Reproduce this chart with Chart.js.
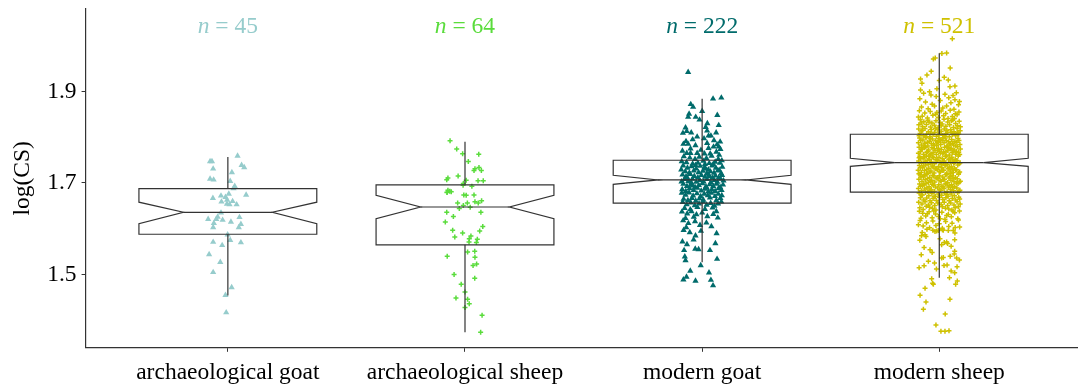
<!DOCTYPE html>
<html>
<head>
<meta charset="utf-8">
<script src="https://cdn.jsdelivr.net/npm/chart.js@4.4.1/dist/chart.umd.min.js"></script>
<style>
  html, body { margin: 0; padding: 0; background: #fff; }
  #wrap { width: 1078px; height: 385px; position: relative; }
</style>
</head>
<body>
<div id="wrap"><canvas id="csChart"></canvas></div>
<script>
const categories = ["archaeological goat", "archaeological sheep", "modern goat", "modern sheep"];
const groupColors = ["#96CCCC", "#5ADC3C", "#006B6B", "#CFC100"];
const counts = [45, 64, 222, 521];
const yTicks = [1.5, 1.7, 1.9];

// box statistics
const boxQ1 = [1.588, 1.565, 1.656, 1.680];
const boxMedian = [1.636, 1.6475, 1.7066, 1.7444];
const boxQ3 = [1.6875, 1.696, 1.7496, 1.8064];
const notchLow = [1.611, 1.622, 1.6971, 1.7363];
const notchHigh = [1.658, 1.673, 1.7168, 1.754];
const whiskerLow = [1.454, 1.374, 1.527, 1.493];
const whiskerHigh = [1.757, 1.790, 1.884, 1.9835];

// points: [jitter offset, log(CS)]
const archGoat = [
[0.041,1.759],[-0.075,1.747],[-0.067,1.747],[0.058,1.739],[0.069,1.734],[-0.062,1.731],[0.017,1.723],[-0.075,1.709],[-0.060,1.707],[0.010,1.704],
[0.029,1.693],[0.024,1.688],[0.077,1.674],[0.004,1.676],[-0.029,1.672],[-0.063,1.667],[-0.010,1.669],[-0.003,1.663],[-0.027,1.659],[-0.004,1.654],
[0.007,1.653],[0.037,1.653],[-0.029,1.635],[-0.043,1.626],[0.049,1.625],[-0.083,1.621],[-0.049,1.621],[-0.022,1.619],[0.013,1.615],[-0.059,1.612],
[0.055,1.610],[-0.062,1.603],[0.046,1.603],[-0.001,1.587],[0.010,1.575],[-0.062,1.571],[-0.024,1.564],[0.055,1.570],[-0.079,1.544],[-0.032,1.527],
[-0.062,1.505],[0.016,1.472],[-0.010,1.455],[-0.007,1.417],[0.020,1.660]
];
const archSheep = [
[-0.063,1.792],[-0.035,1.774],[-0.010,1.764],[0.058,1.763],[0.014,1.747],[0.059,1.734],[0.042,1.731],[0.038,1.727],[0.069,1.727],[-0.029,1.715],
[-0.072,1.711],[-0.077,1.707],[0.005,1.706],[0.055,1.705],[0.077,1.705],[-0.007,1.699],[-0.008,1.695],[0.029,1.693],[-0.072,1.684],[-0.064,1.682],
[-0.058,1.681],[-0.075,1.680],[-0.005,1.674],[0.005,1.673],[0.038,1.674],[-0.031,1.656],[0.010,1.656],[0.042,1.659],[0.056,1.656],[0.070,1.661],
[-0.007,1.651],[-0.024,1.644],[0.022,1.647],[-0.077,1.636],[0.067,1.636],[-0.049,1.627],[-0.083,1.615],[0.075,1.605],[-0.052,1.597],[-0.010,1.591],
[0.062,1.595],[-0.043,1.582],[0.025,1.584],[0.018,1.578],[0.052,1.577],[0.017,1.571],[0.048,1.570],[0.011,1.549],[0.041,1.551],[-0.075,1.540],
[0.042,1.538],[0.049,1.523],[0.034,1.520],[-0.046,1.500],[0.041,1.492],[-0.016,1.479],[0.000,1.462],[-0.038,1.449],[0.011,1.446],[0.018,1.436],
[0.000,1.428],[0.072,1.411],[0.066,1.374],[-0.076,1.679]
];
const modernGoat = [
[-0.059,1.942],[0.046,1.884],[0.081,1.886],[-0.038,1.866],[0.000,1.857],[-0.055,1.851],[-0.059,1.844],[-0.027,1.844],[-0.011,1.838],[0.022,1.830],
[0.070,1.826],[-0.070,1.821],[-0.081,1.809],[-0.065,1.813],[-0.046,1.810],[-0.021,1.801],[0.021,1.814],[0.027,1.803],[0.037,1.803],[0.059,1.810],
[0.064,1.848],[-0.048,1.872],[0.015,1.822],
[-0.079,1.785],[-0.059,1.785],[-0.028,1.782],[0.021,1.787],[0.076,1.790],[-0.040,1.795],[0.050,1.793],[0.008,1.797],[-0.068,1.791],[0.063,1.784],
[-0.049,1.775],[0.027,1.776],[0.048,1.779],[0.070,1.779],[0.077,1.774],[-0.065,1.765],[-0.049,1.765],[-0.021,1.765],[0.010,1.764],[0.034,1.764],[0.060,1.768],[0.072,1.761],[-0.083,1.770],[-0.005,1.772],
[-0.077,1.758],[-0.052,1.755],[-0.030,1.752],[-0.012,1.757],[0.005,1.748],[0.018,1.754],[0.040,1.759],[0.055,1.746],[0.068,1.752],[0.083,1.749],[-0.066,1.745],[-0.040,1.742],[-0.018,1.744],[0.012,1.741],[0.030,1.743],[0.047,1.741],[0.075,1.744],[-0.086,1.747],
[-0.080,1.738],[-0.062,1.733],[-0.045,1.736],[-0.025,1.731],[-0.008,1.737],[0.010,1.734],[0.026,1.729],[0.042,1.738],[0.058,1.733],[0.072,1.728],[0.085,1.735],[-0.071,1.725],[-0.054,1.722],[-0.035,1.727],[-0.015,1.723],[0.003,1.726],[0.020,1.721],[0.035,1.725],[0.050,1.722],[0.066,1.727],[0.080,1.721],[-0.088,1.729],[-0.028,1.739],[0.015,1.731],
[-0.083,1.718],[-0.068,1.714],[-0.050,1.719],[-0.033,1.715],[-0.018,1.712],[-0.003,1.717],[0.012,1.713],[0.028,1.718],[0.043,1.711],[0.056,1.716],[0.070,1.712],[0.084,1.717],[-0.075,1.708],[-0.058,1.704],[-0.041,1.709],[-0.025,1.702],[-0.010,1.706],[0.006,1.703],[0.021,1.708],[0.037,1.701],[0.052,1.706],[0.064,1.702],[0.078,1.709],[-0.087,1.703],[-0.046,1.701],[0.030,1.714],[0.090,1.705],[-0.062,1.711],
[-0.079,1.698],[-0.064,1.693],[-0.047,1.697],[-0.030,1.691],[-0.014,1.695],[0.001,1.699],[0.016,1.692],[0.032,1.697],[0.047,1.693],[0.061,1.698],[0.076,1.691],[0.088,1.696],[-0.084,1.686],[-0.069,1.682],[-0.053,1.688],[-0.036,1.684],[-0.020,1.689],[-0.004,1.683],[0.011,1.687],[0.026,1.681],[0.041,1.686],[0.055,1.682],[0.069,1.688],[0.082,1.684],[-0.040,1.694],[0.020,1.689],
[-0.086,1.678],[-0.070,1.674],[-0.055,1.679],[-0.038,1.672],[-0.022,1.677],[-0.006,1.671],[0.009,1.676],[0.024,1.673],[0.039,1.678],[0.054,1.671],[0.068,1.676],[0.083,1.673],[-0.078,1.665],[-0.060,1.662],[-0.043,1.667],[-0.027,1.661],[-0.011,1.666],[0.005,1.663],[0.033,1.668],[0.060,1.662],[0.077,1.667],
[-0.082,1.658],[-0.065,1.653],[-0.048,1.657],[-0.031,1.651],[-0.013,1.655],[0.004,1.659],[0.019,1.652],[0.036,1.656],[0.052,1.650],[0.067,1.655],[0.081,1.659],[-0.074,1.645],[-0.050,1.642],[-0.020,1.647],[0.012,1.643],[0.044,1.646],
[-0.085,1.637],[-0.063,1.633],[-0.045,1.638],[-0.024,1.631],[0.000,1.635],[0.022,1.627],[0.047,1.632],[0.066,1.624],[-0.070,1.623],[-0.035,1.626],[0.060,1.638],
[-0.080,1.618],[-0.058,1.612],[-0.030,1.616],[-0.009,1.608],[0.018,1.613],[0.039,1.605],[-0.067,1.603],
[-0.078,1.597],[-0.052,1.592],[-0.005,1.595],[0.061,1.590],[-0.028,1.585],
[-0.083,1.572],[-0.036,1.576],[-0.064,1.566],[0.056,1.568],
[-0.076,1.553],[-0.029,1.556],[-0.015,1.555],[0.033,1.553],
[-0.073,1.539],[-0.070,1.531],[0.063,1.534],
[-0.006,1.520],[-0.050,1.508],[0.029,1.504],
[-0.079,1.489],[-0.066,1.495],[-0.028,1.486],[0.037,1.488],[0.046,1.476]
];
const modernSheep = [
[0.055,2.015],[0.011,1.983],[0.031,1.984],[-0.025,1.971],[-0.017,1.973],[-0.034,1.944],[0.046,1.951],
[-0.079,1.927],[-0.073,1.918],[0.000,1.924],[0.038,1.925],[0.066,1.912],[-0.079,1.903],[0.045,1.910],[-0.052,1.936],[0.021,1.931],[-0.010,1.906],
[-0.066,1.896],[-0.041,1.899],[-0.013,1.889],[0.024,1.894],[0.058,1.891],[0.066,1.882],[0.072,1.897],[-0.082,1.884],[-0.058,1.877],[-0.030,1.872],[0.004,1.880],[0.031,1.868],[0.049,1.875],[0.081,1.871],[-0.075,1.866],[-0.047,1.862],[-0.020,1.868],[0.015,1.864],[0.040,1.886],[0.062,1.861],[-0.035,1.892],[0.085,1.878],
[-0.084,1.858],[-0.061,1.853],[-0.038,1.856],[-0.015,1.850],[0.008,1.857],[0.027,1.852],[0.046,1.859],[0.068,1.851],[0.083,1.855],[-0.072,1.846],[-0.050,1.842],[-0.027,1.848],[-0.004,1.843],[0.018,1.847],[0.037,1.841],[0.055,1.845],[0.075,1.849],[-0.088,1.844],[0.064,1.841],[-0.010,1.854],
[-0.080,1.838],[-0.065,1.834],[-0.048,1.837],[-0.031,1.831],[-0.014,1.836],[0.003,1.832],[0.020,1.839],[0.036,1.833],[0.052,1.836],[0.069,1.830],[0.084,1.835],[-0.086,1.827],[-0.070,1.823],[-0.054,1.828],[-0.037,1.822],[-0.021,1.826],[-0.005,1.821],[0.012,1.829],[0.028,1.824],[0.044,1.827],[0.060,1.821],[0.077,1.825],[-0.043,1.833],[0.008,1.825],[0.057,1.838],[-0.076,1.831],[0.089,1.823],
[-0.087,1.818],[-0.074,1.814],[-0.060,1.819],[-0.046,1.812],[-0.033,1.817],[-0.019,1.811],[-0.006,1.816],[0.008,1.813],[0.021,1.818],[0.035,1.811],[0.048,1.816],[0.062,1.812],[0.075,1.819],[0.088,1.814],
[-0.081,1.808],[-0.067,1.803],[-0.053,1.807],[-0.040,1.801],[-0.026,1.806],[-0.012,1.802],[0.001,1.809],[0.015,1.804],[0.028,1.808],[0.042,1.801],[0.055,1.806],[0.069,1.803],[0.082,1.807],
[-0.070,1.815],[-0.036,1.809],[-0.002,1.805],[0.032,1.815],[0.065,1.808],[-0.057,1.801],[-0.016,1.819],[0.025,1.802],[0.050,1.810],[-0.085,1.803],[0.078,1.811],
[-0.083,1.798],[-0.069,1.794],[-0.056,1.799],[-0.042,1.791],[-0.029,1.796],[-0.015,1.792],[-0.002,1.797],[0.012,1.793],[0.025,1.798],[0.039,1.790],[0.052,1.795],[0.066,1.791],[0.079,1.797],
[-0.088,1.788],[-0.075,1.783],[-0.061,1.787],[-0.048,1.781],[-0.034,1.786],[-0.021,1.782],[-0.007,1.789],[0.006,1.784],[0.020,1.788],[0.033,1.781],[0.047,1.786],[0.060,1.783],[0.074,1.789],[0.087,1.784],
[-0.078,1.793],[-0.050,1.789],[-0.024,1.785],[0.003,1.795],[0.030,1.792],[0.057,1.787],[0.083,1.793],[-0.064,1.781],[-0.038,1.797],[-0.011,1.782],[0.016,1.799],[0.043,1.785],[0.070,1.781],[-0.003,1.790],
[-0.085,1.778],[-0.072,1.774],[-0.058,1.779],[-0.045,1.772],[-0.031,1.777],[-0.018,1.771],[-0.004,1.776],[0.009,1.773],[0.023,1.778],[0.036,1.771],[0.050,1.776],[0.063,1.772],[0.077,1.779],[0.089,1.774],
[-0.080,1.768],[-0.066,1.763],[-0.053,1.767],[-0.039,1.761],[-0.026,1.766],[-0.012,1.762],[0.001,1.769],[0.015,1.764],[0.028,1.768],[0.042,1.761],[0.055,1.766],[0.069,1.763],[0.082,1.767],
[-0.076,1.773],[-0.049,1.769],[-0.022,1.775],[0.005,1.765],[0.032,1.779],[0.059,1.770],[0.086,1.762],[-0.062,1.777],[-0.035,1.764],[-0.008,1.771],[0.019,1.767],[0.046,1.774],[0.073,1.769],[-0.088,1.765],[0.039,1.777],
[-0.082,1.758],[-0.068,1.754],[-0.055,1.759],[-0.041,1.752],[-0.028,1.757],[-0.014,1.751],[-0.001,1.756],[0.013,1.753],[0.026,1.758],[0.040,1.751],[0.053,1.756],[0.067,1.752],[0.080,1.759],
[-0.087,1.748],[-0.074,1.743],[-0.060,1.747],[-0.047,1.741],[-0.033,1.746],[-0.020,1.742],[-0.006,1.749],[0.007,1.744],[0.021,1.748],[0.034,1.741],[0.048,1.746],[0.061,1.743],[0.075,1.749],[0.088,1.744],
[-0.078,1.753],[-0.051,1.749],[-0.024,1.755],[0.003,1.745],[0.030,1.759],[0.057,1.750],[0.084,1.742],[-0.064,1.757],[-0.037,1.744],[-0.010,1.751],[0.017,1.747],[0.044,1.754],[0.071,1.749],[-0.085,1.755],[0.010,1.740],[-0.044,1.758],[0.063,1.745],
[-0.084,1.738],[-0.071,1.734],[-0.057,1.739],[-0.044,1.732],[-0.030,1.737],[-0.017,1.731],[-0.003,1.736],[0.010,1.733],[0.024,1.738],[0.037,1.731],[0.051,1.736],[0.064,1.732],[0.078,1.739],
[-0.089,1.728],[-0.076,1.723],[-0.062,1.727],[-0.049,1.721],[-0.035,1.726],[-0.022,1.722],[-0.008,1.729],[0.005,1.724],[0.019,1.728],[0.032,1.721],[0.046,1.726],[0.059,1.723],[0.073,1.729],[0.086,1.724],
[-0.080,1.733],[-0.053,1.729],[-0.026,1.735],[0.001,1.725],[0.028,1.739],[0.055,1.730],[0.082,1.722],[-0.066,1.737],[-0.039,1.724],[-0.012,1.731],[0.015,1.727],[0.042,1.734],[0.069,1.729],[-0.086,1.720],[0.048,1.721],
[-0.081,1.718],[-0.067,1.714],[-0.054,1.719],[-0.040,1.712],[-0.027,1.717],[-0.013,1.711],[0.000,1.716],[0.014,1.713],[0.027,1.718],[0.041,1.711],[0.054,1.716],[0.068,1.712],[0.081,1.719],
[-0.086,1.708],[-0.073,1.703],[-0.059,1.707],[-0.046,1.701],[-0.032,1.706],[-0.019,1.702],[-0.005,1.709],[0.008,1.704],[0.022,1.708],[0.035,1.701],[0.049,1.706],[0.062,1.703],[0.076,1.709],[0.089,1.704],
[-0.077,1.713],[-0.050,1.709],[-0.023,1.715],[0.004,1.705],[0.031,1.719],[0.058,1.710],[0.085,1.702],[-0.063,1.717],[-0.036,1.704],[-0.009,1.711],[0.018,1.707],[0.045,1.714],[0.072,1.700],
[-0.083,1.698],[-0.070,1.694],[-0.056,1.699],[-0.043,1.692],[-0.029,1.697],[-0.016,1.691],[-0.002,1.696],[0.011,1.693],[0.025,1.698],[0.038,1.691],[0.052,1.696],[0.065,1.692],[0.079,1.699],
[-0.088,1.688],[-0.075,1.683],[-0.061,1.687],[-0.048,1.681],[-0.034,1.686],[-0.021,1.682],[-0.007,1.689],[0.006,1.684],[0.020,1.688],[0.033,1.681],[0.047,1.686],[0.060,1.683],[0.074,1.689],[0.087,1.684],
[-0.079,1.693],[-0.052,1.689],[-0.025,1.695],[0.002,1.685],[0.029,1.699],[0.056,1.690],[0.083,1.682],[-0.065,1.697],[-0.038,1.684],[0.016,1.691],[0.043,1.694],
[-0.085,1.678],[-0.071,1.674],[-0.058,1.679],[-0.044,1.672],[-0.031,1.677],[-0.017,1.671],[-0.004,1.676],[0.010,1.673],[0.023,1.678],[0.037,1.671],[0.050,1.676],[0.064,1.672],[0.077,1.679],
[-0.080,1.668],[-0.066,1.663],[-0.053,1.667],[-0.039,1.661],[-0.026,1.666],[-0.012,1.662],[0.001,1.669],[0.015,1.664],[0.028,1.668],[0.042,1.661],[0.055,1.666],[0.069,1.663],[0.082,1.669],
[-0.076,1.674],[-0.022,1.670],[0.032,1.675],[0.086,1.665],
[-0.087,1.658],[-0.073,1.654],[-0.060,1.659],[-0.046,1.652],[-0.033,1.657],[-0.019,1.651],[-0.006,1.656],[0.008,1.653],[0.021,1.658],[0.035,1.651],[0.048,1.656],[0.062,1.652],[0.075,1.659],[0.088,1.654],
[-0.082,1.646],[-0.068,1.642],[-0.041,1.647],[-0.014,1.641],[0.013,1.648],[0.040,1.643],[0.067,1.646],[-0.055,1.649],[-0.028,1.644],[0.026,1.645],[0.053,1.641],[0.080,1.648],
[-0.084,1.638],[-0.070,1.634],[-0.043,1.637],[-0.016,1.632],[0.011,1.636],[0.038,1.631],[0.065,1.635],[0.085,1.639],[-0.057,1.628],[-0.030,1.624],[-0.003,1.627],[0.024,1.621],[0.051,1.626],[0.078,1.622],[-0.077,1.623],[-0.050,1.633],[0.004,1.622],[0.031,1.629],[0.058,1.638],[-0.023,1.639],
[-0.081,1.618],[-0.054,1.613],[-0.027,1.617],[0.000,1.611],[0.027,1.616],[0.054,1.612],[0.081,1.619],[-0.068,1.606],[-0.041,1.602],[-0.014,1.607],[0.013,1.601],[0.040,1.605],[0.067,1.603],[-0.088,1.609],[0.086,1.604],
[-0.052,1.599],[-0.027,1.597],[-0.018,1.594],[-0.011,1.595],[-0.004,1.596],[0.013,1.598],[0.017,1.597],[0.038,1.596],[0.059,1.596],[0.066,1.591],[-0.072,1.592],[-0.060,1.587],[-0.056,1.583],[-0.075,1.585],
[0.003,1.578],[0.021,1.570],[0.031,1.571],[0.035,1.568],[-0.064,1.559],[-0.039,1.554],[0.065,1.576],[-0.082,1.575],[0.010,1.565],[0.050,1.562],
[0.065,1.551],[-0.076,1.543],[0.046,1.540],[0.010,1.536],[0.017,1.537],[0.073,1.536],[0.063,1.545],[-0.030,1.548],
[-0.046,1.529],[-0.064,1.519],[0.020,1.520],[0.033,1.521],[0.085,1.532],[-0.020,1.525],
[-0.012,1.512],[0.065,1.504],[0.050,1.508],[-0.085,1.515],[0.075,1.517],
[-0.032,1.491],[0.043,1.493],[0.076,1.486],[-0.028,1.481],[-0.025,1.479],[0.069,1.479],[-0.060,1.470],
[-0.081,1.455],[-0.056,1.440],[-0.067,1.424],[0.045,1.446],[0.025,1.414],[-0.014,1.390],[0.007,1.376],[0.024,1.376],[0.041,1.377]
];

const groups = [archGoat, archSheep, modernGoat, modernSheep];
const pointStyles = ["triangle", "cross", "triangle", "cross"];

const SERIF = '"Liberation Serif", "DejaVu Serif", serif';
const FONT_SIZE = 23.5;
const AXIS_COLOR = "#333333";

// notched boxes, whiskers and n labels on top of the jittered points
const boxPlugin = {
  id: "notchedBoxes",
  afterDatasetsDraw(chart) {
    const { ctx, scales: { x, y } } = chart;
    const py = (v) => y.getPixelForValue(v);
    ctx.save();
    ctx.strokeStyle = AXIS_COLOR;
    ctx.lineWidth = 1.2;
    categories.forEach((name, i) => {
      const c = i + 1;
      const L = x.getPixelForValue(c - 0.375);
      const R = x.getPixelForValue(c + 0.375);
      const nl = x.getPixelForValue(c - 0.1875);
      const nr = x.getPixelForValue(c + 0.1875);
      const cx = x.getPixelForValue(c);

      ctx.beginPath();
      ctx.moveTo(L, py(boxQ3[i]));
      ctx.lineTo(R, py(boxQ3[i]));
      ctx.lineTo(R, py(notchHigh[i]));
      ctx.lineTo(nr, py(boxMedian[i]));
      ctx.lineTo(R, py(notchLow[i]));
      ctx.lineTo(R, py(boxQ1[i]));
      ctx.lineTo(L, py(boxQ1[i]));
      ctx.lineTo(L, py(notchLow[i]));
      ctx.lineTo(nl, py(boxMedian[i]));
      ctx.lineTo(L, py(notchHigh[i]));
      ctx.closePath();
      ctx.stroke();

      ctx.beginPath();
      ctx.moveTo(nl, py(boxMedian[i]));
      ctx.lineTo(nr, py(boxMedian[i]));
      // whiskers
      ctx.moveTo(cx, py(boxQ3[i]));
      ctx.lineTo(cx, py(whiskerHigh[i]));
      ctx.moveTo(cx, py(boxQ1[i]));
      ctx.lineTo(cx, py(whiskerLow[i]));
      ctx.stroke();

      // "n = .." label
      const italic = "italic " + FONT_SIZE + "px " + SERIF;
      const roman = FONT_SIZE + "px " + SERIF;
      const rest = " = " + counts[i];
      ctx.font = italic;
      const w1 = ctx.measureText("n").width;
      ctx.font = roman;
      const w2 = ctx.measureText(rest).width;
      const start = cx - (w1 + w2) / 2;
      const base = py(2.027);
      ctx.fillStyle = groupColors[i];
      ctx.textBaseline = "alphabetic";
      ctx.textAlign = "left";
      ctx.font = italic;
      ctx.fillText("n", start, base);
      ctx.font = roman;
      ctx.fillText(rest, start + w1, base);
    });
    ctx.restore();
  }
};

const datasets = groups.map((pts, i) => ({
  label: categories[i],
  data: pts.map(([dx, v]) => ({ x: i + 1 + dx, y: v })),
  pointStyle: pointStyles[i],
  pointRadius: pointStyles[i] === "triangle" ? 3.6 : 2.5,
  pointBorderWidth: pointStyles[i] === "triangle" ? 0 : 1.5,
  backgroundColor: groupColors[i],
  borderColor: groupColors[i],
  showLine: false
}));

new Chart(document.getElementById("csChart"), {
  type: "scatter",
  data: { datasets },
  options: {
    responsive: true,
    maintainAspectRatio: false,
    devicePixelRatio: 1,
    animation: false,
    layout: { autoPadding: false, padding: { top: 9, left: 5, right: 0, bottom: -9 } },
    plugins: {
      legend: { display: false },
      tooltip: { enabled: false }
    },
    scales: {
      x: {
        type: "linear",
        min: 0.4,
        max: 4.585,
        afterBuildTicks: (s) => { s.ticks = categories.map((_, i) => ({ value: i + 1 })); },
        afterFit: (s) => { s.paddingLeft = 0; s.paddingRight = 0; },
        ticks: {
          callback: (v) => categories[v - 1],
          font: { family: SERIF, size: FONT_SIZE },
          color: "#000",
          padding: 7,
          maxRotation: 0,
          autoSkip: false
        },
        grid: { drawOnChartArea: false, drawTicks: true, tickLength: 4, color: AXIS_COLOR },
        border: { display: true, color: AXIS_COLOR, width: 1.2 }
      },
      y: {
        min: 1.34,
        max: 2.08,
        afterBuildTicks: (s) => { s.ticks = yTicks.map((v) => ({ value: v })); },
        afterFit: (s) => { s.paddingTop = 0; s.paddingBottom = 0; },
        ticks: {
          callback: (v) => v.toFixed(1),
          font: { family: SERIF, size: FONT_SIZE },
          color: "#000",
          padding: 5
        },
        grid: { drawOnChartArea: false, drawTicks: true, tickLength: 4, color: AXIS_COLOR },
        border: { display: true, color: AXIS_COLOR, width: 1.2 },
        title: {
          display: true,
          text: "log(CS)",
          font: { family: SERIF, size: FONT_SIZE },
          color: "#000",
          padding: { top: 4, bottom: 5 }
        }
      }
    }
  },
  plugins: [boxPlugin]
});
</script>
</body>
</html>
